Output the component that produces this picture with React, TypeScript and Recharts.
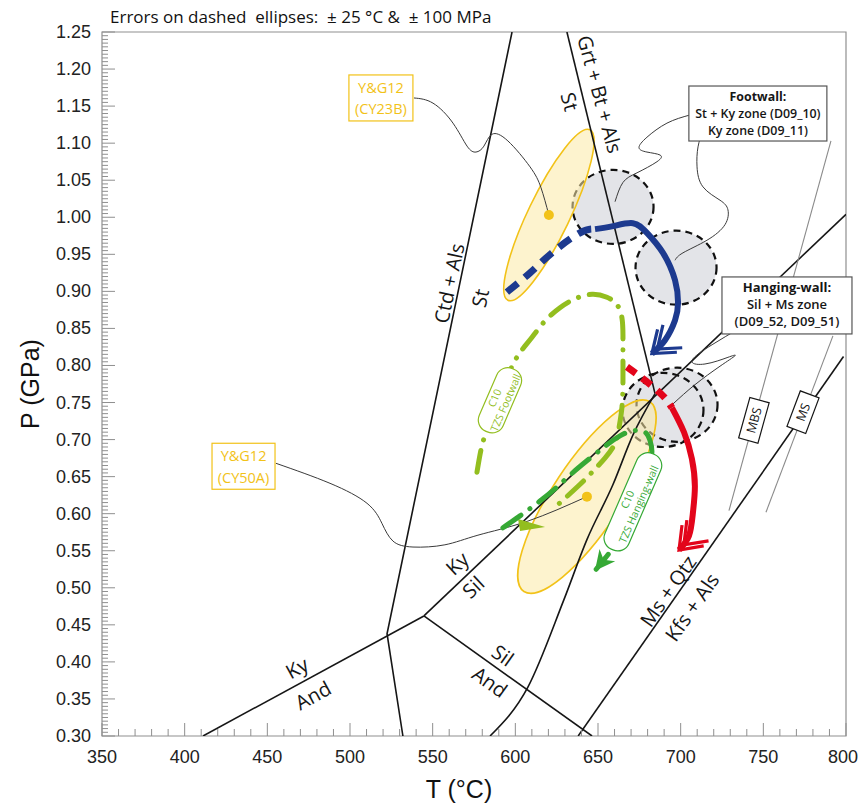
import React from 'react'
import {
  ComposedChart,
  Line,
  Scatter,
  XAxis,
  YAxis,
  ReferenceArea,
  ReferenceDot,
} from 'recharts'

type PT = { t: number; p: number }

/* ---------- axes ---------- */
const X_DOMAIN: [number, number] = [350, 800]
const Y_DOMAIN: [number, number] = [0.3, 1.25]
const X_LABELS = [350, 400, 450, 500, 550, 600, 650, 700, 750, 800]
const Y_LABELS = [
  0.3, 0.35, 0.4, 0.45, 0.5, 0.55, 0.6, 0.65, 0.7, 0.75,
  0.8, 0.85, 0.9, 0.95, 1.0, 1.05, 1.1, 1.15, 1.2, 1.25,
]

// minor ticks: every 10 °C and every 0.005 GPa
const X_TICKS: number[] = []
for (let v = X_LABELS[0]; v <= X_LABELS[X_LABELS.length - 1]; v += 10) X_TICKS.push(v)
const Y_TICKS: number[] = []
for (let i = 0; i <= 190; i++) Y_TICKS.push(Math.round((Y_LABELS[0] + i * 0.005) * 1000) / 1000)

/* ---------- reaction boundaries (T °C, P GPa) ---------- */
const ctdAlsSt: PT[] = [{ t: 598.0, p: 1.25 }, { t: 522.4, p: 0.438 }, { t: 532.0, p: 0.3 }]
const kyAnd: PT[] = [{ t: 411.1, p: 0.3 }, { t: 544.7, p: 0.462 }]
const silAnd: PT[] = [{ t: 544.7, p: 0.462 }, { t: 646.4, p: 0.3 }]
const kySil: PT[] = [{ t: 544.7, p: 0.462 }, { t: 800, p: 1.004 }]
const grtBtAls: PT[] = [{ t: 631.2, p: 1.25 }, { t: 684.5, p: 0.762 }]
const msQtz: PT[] = [{ t: 638.0, p: 0.3 }, { t: 798.5, p: 0.812 }]
const wetMelt: PT[] = [
  { t: 584.7, p: 0.3 }, { t: 607.6, p: 0.366 }, { t: 629.4, p: 0.484 },
  { t: 643.3, p: 0.565 }, { t: 659.0, p: 0.639 }, { t: 671.1, p: 0.706 },
  { t: 684.5, p: 0.762 },
]
const mbsLine: PT[] = [{ t: 729.2, p: 0.604 }, { t: 790.9, p: 1.103 }]
const msLine: PT[] = [{ t: 751.6, p: 0.602 }, { t: 792.1, p: 0.84 }]

/* ---------- P–T paths ---------- */
const footwallPrograde: PT[] = [
  { t: 594.9, p: 0.899 }, { t: 608.9, p: 0.925 }, { t: 622.2, p: 0.952 },
  { t: 639.1, p: 0.979 }, { t: 648.2, p: 0.984 },
]
const footwallRetro: PT[] = [
  { t: 648.2, p: 0.984 }, { t: 659.1, p: 0.988 }, { t: 671.1, p: 0.992 },
  { t: 679.6, p: 0.979 }, { t: 689.3, p: 0.952 }, { t: 696.6, p: 0.915 },
  { t: 698.4, p: 0.884 }, { t: 696.6, p: 0.861 }, { t: 690.5, p: 0.834 },
  { t: 682.6, p: 0.816 },
]
const hangingPrograde: PT[] = [
  { t: 667.5, p: 0.798 }, { t: 678.4, p: 0.78 }, { t: 689.3, p: 0.759 }, { t: 694.7, p: 0.743 },
]
const hangingRetro: PT[] = [
  { t: 694.7, p: 0.743 }, { t: 702.0, p: 0.71 }, { t: 706.8, p: 0.674 },
  { t: 708.6, p: 0.637 }, { t: 707.4, p: 0.601 }, { t: 705.0, p: 0.57 },
  { t: 699.0, p: 0.551 },
]
const c10Footwall: PT[] = [
  { t: 576.8, p: 0.656 }, { t: 579.2, p: 0.686 }, { t: 582.8, p: 0.713 },
  { t: 590.7, p: 0.76 }, { t: 598.0, p: 0.799 }, { t: 604.0, p: 0.821 },
  { t: 610.1, p: 0.838 }, { t: 617.9, p: 0.86 }, { t: 627.0, p: 0.878 },
  { t: 636.1, p: 0.89 }, { t: 646.4, p: 0.896 }, { t: 655.4, p: 0.892 },
  { t: 661.5, p: 0.882 }, { t: 664.5, p: 0.864 }, { t: 665.1, p: 0.841 },
  { t: 665.1, p: 0.814 }, { t: 665.1, p: 0.78 }, { t: 664.5, p: 0.744 },
  { t: 662.7, p: 0.716 }, { t: 660.3, p: 0.695 }, { t: 654.2, p: 0.675 },
  { t: 646.4, p: 0.656 }, { t: 637.9, p: 0.637 }, { t: 622.2, p: 0.605 },
]
const c10Hanging: PT[] = [
  { t: 592.5, p: 0.581 }, { t: 602.8, p: 0.597 }, { t: 614.9, p: 0.617 },
  { t: 625.2, p: 0.636 }, { t: 636.1, p: 0.658 }, { t: 646.4, p: 0.677 },
  { t: 655.4, p: 0.693 }, { t: 663.3, p: 0.705 }, { t: 671.1, p: 0.712 },
  { t: 678.4, p: 0.71 }, { t: 681.4, p: 0.699 }, { t: 682.6, p: 0.683 },
  { t: 680.2, p: 0.659 }, { t: 675.4, p: 0.632 }, { t: 669.3, p: 0.605 },
  { t: 663.3, p: 0.578 }, { t: 659.1, p: 0.555 }, { t: 653.6, p: 0.538 },
  { t: 648.9, p: 0.525 },
]

/* ---------- peak estimates ---------- */
const ERR_T = 24.5
const ERR_P = 0.05
const footwallPeaks = [
  { id: 'D09_10', t: 659.1, p: 1.014 },
  { id: 'D09_11', t: 697.2, p: 0.932 },
]
const hangingPeaks = [
  { id: 'D09_52', t: 689.3, p: 0.74 },
  { id: 'D09_51', t: 697.8, p: 0.747 },
]
// Y&G12 results: centre and the end of the long axis of the error ellipse
const ygPeaks = [
  { id: 'CY23B', t: 620.3, p: 1.003, tEnd: 645.1, pEnd: 1.118, minor: 0.22 },
  { id: 'CY50A', t: 643.3, p: 0.623, tEnd: 681.4, pEnd: 0.751, minor: 0.3 },
]

/* ---------- leader lines ---------- */
const leadCY23B: PT[] = [
  { t: 538.7, p: 1.161 }, { t: 550.2, p: 1.154 }, { t: 562.3, p: 1.127 },
  { t: 570.8, p: 1.096 }, { t: 576.2, p: 1.088 }, { t: 581.0, p: 1.096 },
  { t: 585.9, p: 1.112 }, { t: 595.5, p: 1.103 }, { t: 608.9, p: 1.068 },
  { t: 615.5, p: 1.04 }, { t: 620.3, p: 1.003 },
]
const leadCY50A: PT[] = [
  { t: 455.2, p: 0.668 }, { t: 487.9, p: 0.641 }, { t: 510.3, p: 0.614 },
  { t: 519.3, p: 0.587 }, { t: 526.0, p: 0.563 }, { t: 538.1, p: 0.555 },
  { t: 557.4, p: 0.558 }, { t: 577.4, p: 0.571 }, { t: 607.6, p: 0.59 },
  { t: 643.3, p: 0.623 },
]
const leadD0910: PT[] = [
  { t: 705.6, p: 1.138 }, { t: 691.7, p: 1.127 }, { t: 679.6, p: 1.108 },
  { t: 674.8, p: 1.094 }, { t: 679.6, p: 1.088 }, { t: 687.5, p: 1.084 },
  { t: 685.7, p: 1.075 }, { t: 673.6, p: 1.06 }, { t: 665.1, p: 1.047 },
  { t: 660.3, p: 1.021 },
]
const leadD0911: PT[] = [
  { t: 713.5, p: 1.118 }, { t: 710.5, p: 1.095 }, { t: 709.9, p: 1.068 },
  { t: 713.5, p: 1.041 }, { t: 723.8, p: 1.023 }, { t: 728.6, p: 1.01 },
  { t: 726.8, p: 0.99 }, { t: 715.9, p: 0.969 }, { t: 701.4, p: 0.952 },
  { t: 696.6, p: 0.942 },
]
const leadHanging: PT[] = [
  { t: 734.7, p: 0.849 }, { t: 719.0, p: 0.828 }, { t: 706.9, p: 0.807 },
  { t: 714.7, p: 0.802 }, { t: 728.6, p: 0.811 }, { t: 732.8, p: 0.813 },
  { t: 723.8, p: 0.799 }, { t: 708.6, p: 0.774 }, { t: 695.3, p: 0.748 },
]

/* ---------- styling ---------- */
const FONT_AX = "'Liberation Sans', Arial, sans-serif"
const FONT_UI = "'Open Sans', 'Noto Sans', sans-serif"
const FRAME = '#8f8f8f'
const INK = '#161616'
const BLUE = '#1d3a8f'
const RED = '#e3051b'
const LIME = '#93be1f'
const GREEN = '#36a935'
const GOLD = '#f2c218'

type LineTag = { text: string; t: number; p: number; angle: number }
const lineTags: LineTag[] = [
  { text: 'Ctd + Als', t: 559.9, p: 0.911, angle: -78 },
  { text: 'St', t: 578.6, p: 0.891, angle: -78 },
  { text: 'Grt + Bt + Als', t: 651.2, p: 1.166, angle: 75 },
  { text: 'St', t: 633.0, p: 1.156, angle: 75 },
  { text: 'Ky', t: 564.7, p: 0.533, angle: -43 },
  { text: 'Sil', t: 574.4, p: 0.501, angle: -43 },
  { text: 'Ky', t: 467.9, p: 0.392, angle: -29 },
  { text: 'And', t: 477.6, p: 0.355, angle: -29 },
  { text: 'Sil', t: 592.5, p: 0.409, angle: 35.5 },
  { text: 'And', t: 584.7, p: 0.373, angle: 35.5 },
  { text: 'Ms + Qtz', t: 692.3, p: 0.496, angle: -55 },
  { text: 'Kfs + Als', t: 706.8, p: 0.474, angle: -55 },
]

type BoxTag = {
  lines: string[]; t: number; p: number; w: number; h: number; dy: number[]
  angle?: number; rx?: number; size: number; color: string; stroke: string
  bold?: boolean; weight?: number
}
const boxTags: BoxTag[] = [
  {
    lines: ['Footwall:', 'St + Ky zone (D09_10)', 'Ky zone (D09_11)'],
    t: 746.7, p: 1.14, w: 138, h: 55, dy: [-17, 0, 17], size: 12.4,
    color: INK, stroke: '#555', bold: true,
  },
  {
    lines: ['Hanging-wall:', 'Sil + Ms zone', '(D09_52, D09_51)'],
    t: 764.3, p: 0.881, w: 130, h: 57, dy: [-18, -1, 16], size: 13,
    color: INK, stroke: '#555', bold: true,
  },
  {
    lines: ['Y&G12', '(CY23B)'], t: 518.7, p: 1.161, w: 64, h: 46, dy: [-10, 11],
    size: 14.5, color: GOLD, stroke: GOLD,
  },
  {
    lines: ['Y&G12', '(CY50A)'], t: 435.6, p: 0.664, w: 63, h: 46, dy: [-11, 11],
    size: 14.5, color: GOLD, stroke: GOLD,
  },
  {
    lines: ['MBS'], t: 744.3, p: 0.726, w: 42, h: 20, dy: [0], angle: -74.5,
    size: 12.5, color: INK, stroke: INK, weight: 500,
  },
  {
    lines: ['MS'], t: 774.0, p: 0.737, w: 38, h: 20, dy: [0], angle: -69.4,
    size: 12.5, color: INK, stroke: INK, weight: 500,
  },
  {
    lines: ['C10', 'TZS Footwall'], t: 590.7, p: 0.753, w: 68, h: 26, dy: [-6, 6],
    angle: -66.6, rx: 12, size: 10.5, color: LIME, stroke: LIME,
  },
  {
    lines: ['C10', 'TZS Hanging-wall'], t: 671.1, p: 0.616, w: 104, h: 26, dy: [-6, 6],
    angle: -66.5, rx: 12, size: 10.5, color: GREEN, stroke: GREEN,
  },
]

/* ---------- shapes ---------- */
const circleFill = (r: any) => (
  <ellipse cx={r.x + r.width / 2} cy={r.y + r.height / 2} rx={r.width / 2} ry={r.height / 2} fill="#e3e4e8" />
)
const circleEdge = (r: any) => (
  <ellipse
    cx={r.x + r.width / 2} cy={r.y + r.height / 2} rx={r.width / 2} ry={r.height / 2}
    fill="none" stroke="#111" strokeWidth={2.2} strokeDasharray="7 5"
  />
)
// area spans from the centre (lower-left corner) to the end of the long axis (upper-right)
const tiltedEllipse = (minor: number) => (r: any) => {
  const cx = r.x
  const cy = r.y + r.height
  const a = Math.hypot(r.width, r.height)
  const deg = (Math.atan2(-r.height, r.width) * 180) / Math.PI
  return (
    <ellipse
      cx={cx} cy={cy} rx={a} ry={a * minor} transform={`rotate(${deg} ${cx} ${cy})`}
      fill="#fce9a6" fillOpacity={0.55} stroke={GOLD} strokeWidth={1.6}
    />
  )
}

const lineTagShape = (n: LineTag) => (d: any) => (
  <text
    x={d.cx} y={d.cy} transform={`rotate(${n.angle} ${d.cx} ${d.cy})`}
    textAnchor="middle" dominantBaseline="central"
    fontFamily={FONT_UI} fontSize={20} fill={INK}
  >
    {n.text}
  </text>
)

const boxTagShape = (b: BoxTag) => (d: any) => (
  <g transform={`translate(${d.cx} ${d.cy}) rotate(${b.angle ?? 0})`}>
    <rect
      x={-b.w / 2} y={-b.h / 2} width={b.w} height={b.h} rx={b.rx ?? 0}
      fill="#fff" stroke={b.stroke} strokeWidth={1.2}
    />
    {b.lines.map((l, i) => (
      <text
        key={i} x={0} y={b.dy[i]} textAnchor="middle" dominantBaseline="central"
        fontFamily={FONT_UI} fontSize={b.size} fill={b.color}
        fontWeight={b.bold && i === 0 ? 700 : b.weight ?? (b.bold ? 600 : 400)}
      >
        {l}
      </text>
    ))}
  </g>
)

/* ---------- axis ticks ---------- */
const XTick = (props: any) => {
  const { x, y, payload } = props
  const v = payload.value
  const major = v % 50 === 0
  const last = v === X_DOMAIN[1]
  return (
    <g>
      <line x1={x} x2={x} y1={y} y2={y - (major ? 13 : 7)} stroke={FRAME} />
      {major && (
        <text
          x={last ? x + 12 : x} y={y + 21} textAnchor={last ? 'end' : 'middle'}
          dominantBaseline="central" fontFamily={FONT_AX} fontSize={18} fill="#222"
        >
          {v}
        </text>
      )}
    </g>
  )
}
const YTick = (props: any) => {
  const { x, y, payload } = props
  const v = payload.value
  const major = Math.round(v * 1000) % 50 === 0
  return (
    <g>
      <line x1={x} x2={x + (major ? 13 : 6)} y1={y} y2={y} stroke={FRAME} />
      {major && (
        <text x={x - 11} y={y} textAnchor="end" dominantBaseline="central" fontFamily={FONT_AX} fontSize={18} fill="#222">
          {v.toFixed(2)}
        </text>
      )}
    </g>
  )
}
const XTitle = (props: any) => {
  const vb = props.viewBox
  return (
    <text x={vb.x + 357} y={vb.y + 62} textAnchor="middle" fontFamily={FONT_AX} fontSize={25} fill="#111">
      T (°C)
    </text>
  )
}
const YTitle = (props: any) => {
  const vb = props.viewBox
  const cx = vb.x - 12
  const cy = vb.y + vb.height / 2
  return (
    <text x={cx} y={cy} transform={`rotate(-90 ${cx} ${cy})`} textAnchor="middle" dominantBaseline="central" fontFamily={FONT_AX} fontSize={25} fill="#111">
      P (GPa)
    </text>
  )
}

const seg = (key: string, data: PT[], stroke: string, width: number, extra: any = {}) => (
  <Line
    key={key}
    data={data}
    dataKey="p"
    stroke={stroke}
    strokeWidth={width}
    dot={false}
    activeDot={false}
    isAnimationActive={false}
    legendType="none"
    type="linear"
    {...extra}
  />
)

export default function App() {
  return (
    <div style={{ position: 'absolute', left: 0, top: 0, width: 859, height: 803, background: '#fff' }}>
      <svg width={0} height={0} style={{ position: 'absolute' }}>
        <defs>
          <marker id="chev-blue" viewBox="-40 -25 50 50" markerWidth={50} markerHeight={50} markerUnits="userSpaceOnUse" refX={0} refY={0} orient="auto">
            <path d="M-20,-15 L0,0 L-20,15 M-27,-15 L-7,0 L-27,15" fill="none" stroke={BLUE} strokeWidth={3.2} />
          </marker>
          <marker id="chev-red" viewBox="-40 -25 50 50" markerWidth={50} markerHeight={50} markerUnits="userSpaceOnUse" refX={0} refY={0} orient="auto">
            <path d="M-20,-15 L0,0 L-20,15 M-27,-15 L-7,0 L-27,15" fill="none" stroke={RED} strokeWidth={3.2} />
          </marker>
          <marker id="tri-green" viewBox="-25 -15 30 30" markerWidth={30} markerHeight={30} markerUnits="userSpaceOnUse" refX={0} refY={0} orient="auto">
            <path d="M2,0 L-18,-10 L-12,0 L-18,10 Z" fill={GREEN} />
          </marker>
          <marker id="tri-lime" viewBox="-40 -10 50 40" markerWidth={50} markerHeight={40} markerUnits="userSpaceOnUse" refX={0} refY={0} orient="0">
            <path d="M-34,9 L-7,17 L-32,21 Z" fill={LIME} />
          </marker>
        </defs>
      </svg>
      <svg width={859} height={30} style={{ position: 'absolute', left: 0, top: 0 }}>
        <text x={110} y={23} fontFamily={FONT_UI} fontSize={17} fill="#111" style={{ whiteSpace: 'pre' }}>
          {'Errors on dashed  ellipses:  ± 25 °C &  ± 100 MPa'}
        </text>
      </svg>
      <ComposedChart width={859} height={803} margin={{ top: 32, right: 13, bottom: 7, left: 42 }}>
        <XAxis
          type="number" dataKey="t" domain={X_DOMAIN} ticks={X_TICKS} interval={0}
          allowDataOverflow tick={<XTick />} tickLine={false} axisLine={false}
          tickSize={0} tickMargin={0} height={60} label={{ content: XTitle }}
        />
        <YAxis
          type="number" dataKey="p" domain={Y_DOMAIN} ticks={Y_TICKS} interval={0}
          allowDataOverflow tick={<YTick />} tickLine={false} axisLine={false}
          tickSize={0} tickMargin={0} width={60} label={{ content: YTitle }}
        />
        <ReferenceArea x1={350} x2={800} y1={0.3} y2={1.25} fill="none" stroke={FRAME} strokeWidth={1.2} />

        {[...footwallPeaks, ...hangingPeaks].map((c) => (
          <ReferenceArea key={`f-${c.id}`} x1={c.t - ERR_T} x2={c.t + ERR_T} y1={c.p - ERR_P} y2={c.p + ERR_P} shape={circleFill} />
        ))}
        {[...footwallPeaks, ...hangingPeaks].map((c) => (
          <ReferenceArea key={`e-${c.id}`} x1={c.t - ERR_T} x2={c.t + ERR_T} y1={c.p - ERR_P} y2={c.p + ERR_P} shape={circleEdge} />
        ))}
        {ygPeaks.map((y) => (
          <ReferenceArea key={`y-${y.id}`} x1={y.t} x2={y.tEnd} y1={y.p} y2={y.pEnd} shape={tiltedEllipse(y.minor)} />
        ))}

        {seg('ctd', ctdAlsSt, INK, 1.6)}
        {seg('kyand', kyAnd, INK, 1.6)}
        {seg('siland', silAnd, INK, 1.6)}
        {seg('kysil', kySil, INK, 1.6)}
        {seg('grt', grtBtAls, INK, 1.6)}
        {seg('msqtz', msQtz, INK, 1.6)}
        {seg('melt', wetMelt, INK, 1.6, { type: 'monotone' })}
        {seg('mbs', mbsLine, '#8a8a8a', 1.1)}
        {seg('ms', msLine, '#8a8a8a', 1.1)}

        {seg('l1', leadCY23B, '#3a3a3a', 1, { type: 'natural' })}
        {seg('l2', leadCY50A, '#3a3a3a', 1, { type: 'natural' })}
        {seg('l3', leadD0910, '#3a3a3a', 1, { type: 'natural' })}
        {seg('l4', leadD0911, '#3a3a3a', 1, { type: 'natural' })}
        {seg('l5', leadHanging, '#3a3a3a', 1, { type: 'natural' })}

        {seg('c10f', c10Footwall, LIME, 5, { type: 'natural', strokeDasharray: '22 11 0.1 11', strokeLinecap: 'round', markerEnd: 'url(#tri-lime)' })}
        {seg('c10h', c10Hanging, GREEN, 5, { type: 'natural', strokeDasharray: '22 11 0.1 11', strokeLinecap: 'round', markerEnd: 'url(#tri-green)' })}
        {seg('fwp', footwallPrograde, BLUE, 7, { type: 'natural', strokeDasharray: '14 9' })}
        {seg('fwr', footwallRetro, BLUE, 6, { type: 'natural', markerEnd: 'url(#chev-blue)' })}
        {seg('hwp', hangingPrograde, RED, 7, { type: 'natural', strokeDasharray: '11 8' })}
        {seg('hwr', hangingRetro, RED, 6, { type: 'natural', markerEnd: 'url(#chev-red)' })}

        <Scatter
          data={ygPeaks} dataKey="p" isAnimationActive={false} legendType="none"
          shape={(d: any) => <circle cx={d.cx} cy={d.cy} r={5} fill={GOLD} />}
        />

        {lineTags.map((n, i) => (
          <ReferenceDot key={`lt-${i}`} x={n.t} y={n.p} r={0} shape={lineTagShape(n)} />
        ))}
        {boxTags.map((b, i) => (
          <ReferenceDot key={`bt-${i}`} x={b.t} y={b.p} r={0} shape={boxTagShape(b)} />
        ))}
      </ComposedChart>
    </div>
  )
}
